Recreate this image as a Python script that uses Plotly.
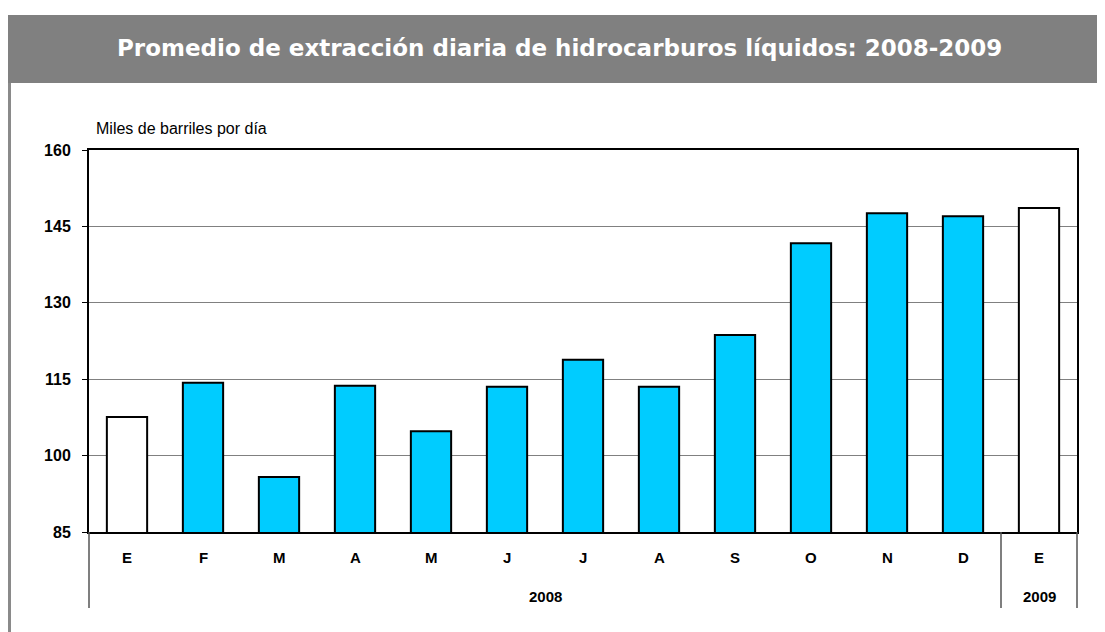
import plotly.graph_objects as go

months = ["E", "F", "M", "A", "M", "J", "J", "A", "S", "O", "N", "D", "E"]
values = [107.6, 114.3, 95.8, 113.7, 104.8, 113.5, 118.8, 113.5, 123.7, 141.7, 147.6, 147.0, 148.6]
bar_colors = ["#FFFFFF"] + ["#00CCFF"] * 11 + ["#FFFFFF"]
years = ["2008", "2009"]
year_centers = [5.5, 12]
title_text = "Promedio de extracción diaria de hidrocarburos líquidos: 2008-2009"
y_title = "Miles de barriles por día"

# figure is placed at (8, 8) in the page by the default body margin
W, H = 1097, 624
L, R, T, B = 81, 1069, 142, 524
def px(x):
    return (x - L) / (R - L)
def py(y):
    return (B - y) / (B - T)

xs = list(range(len(months)))

fig = go.Figure()
fig.add_trace(go.Bar(
    x=xs, y=values, width=0.53,
    marker=dict(color=bar_colors, line=dict(color="black", width=2)),
    hoverinfo="y",
))

SANS = "Liberation Sans, Arial, sans-serif"

shapes = [
    dict(type="rect", xref="paper", yref="paper", x0=px(0), x1=px(W + 2), y0=py(75), y1=py(7),
         fillcolor="#808080", line=dict(width=0), layer="below"),
    dict(type="line", xref="paper", yref="paper", x0=px(1.5), x1=px(1.5), y0=py(75), y1=py(H + 2),
         line=dict(color="#8a8a8a", width=3)),
    dict(type="line", xref="paper", yref="paper", x0=0, x1=0, y0=0, y1=py(600),
         line=dict(color="#555555", width=1.5)),
    dict(type="line", xref="x", yref="paper", x0=11.5, x1=11.5, y0=0, y1=py(600),
         line=dict(color="#555555", width=1.5)),
    dict(type="line", xref="paper", yref="paper", x0=1, x1=1, y0=0, y1=py(600),
         line=dict(color="#555555", width=1.5)),
]

annotations = [
    dict(text="<b>" + title_text + "</b>", xref="paper", yref="paper", x=px(551), y=py(40),
         xanchor="center", yanchor="middle", showarrow=False,
         font=dict(family="DejaVu Sans, Verdana, sans-serif", size=23, color="white")),
    dict(text=y_title, xref="paper", yref="paper", x=px(86), y=py(120),
         xanchor="left", yanchor="middle", showarrow=False,
         font=dict(family=SANS, size=16, color="black")),
]
for i, m in enumerate(months):
    annotations.append(dict(text="<b>" + m + "</b>", xref="x", yref="paper", x=i, y=py(549),
                            xanchor="center", yanchor="middle", showarrow=False,
                            font=dict(family=SANS, size=15, color="black")))
for yr, c in zip(years, year_centers):
    annotations.append(dict(text="<b>" + yr + "</b>", xref="x", yref="paper", x=c, y=py(588),
                            xanchor="center", yanchor="middle", showarrow=False,
                            font=dict(family=SANS, size=15, color="black")))

fig.update_layout(
    width=W, height=H,
    margin=dict(l=L, r=W - R, t=T, b=H - B, pad=0),
    paper_bgcolor="white", plot_bgcolor="white",
    showlegend=False,
    shapes=shapes,
    annotations=annotations,
    xaxis=dict(range=[-0.5, 12.5], showticklabels=False, ticks="", showgrid=False, zeroline=False,
               showline=True, linecolor="black", linewidth=2, mirror=True, fixedrange=True),
    yaxis=dict(range=[85, 160], tick0=85, dtick=15, showgrid=True, gridcolor="#808080", gridwidth=1,
               zeroline=False, showline=True, linecolor="black", linewidth=2, mirror=True,
               ticks="outside", ticklen=5, tickcolor="black", tickwidth=1,
               ticklabelstandoff=8,
               tickfont=dict(family=SANS, size=16, color="black", weight="bold"),
               fixedrange=True),
)

fig.write_html("out.html")
